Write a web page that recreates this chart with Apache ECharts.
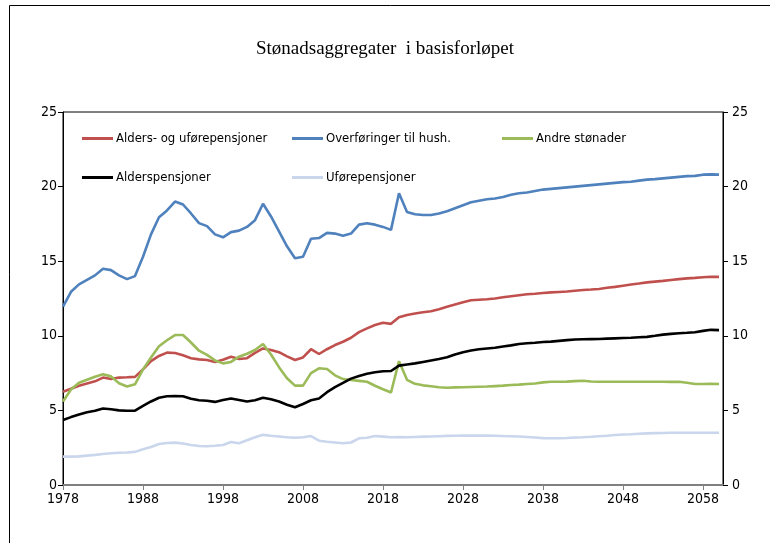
<!DOCTYPE html>
<html>
<head>
<meta charset="utf-8">
<script src="https://cdn.jsdelivr.net/npm/echarts@6/dist/echarts.min.js"></script>
<style>
html,body{margin:0;padding:0;background:#fff;}
#chart{width:770px;height:543px;}
</style>
</head>
<body>
<div id="chart"></div>
<script>
const title = 'Stønadsaggregater  i basisforløpet';
const seriesNames = ['Alders- og uførepensjoner','Overføringer til hush.','Andre stønader','Alderspensjoner','Uførepensjoner'];
const yTicks = [0,5,10,15,20,25];
const startYear = 1978;
const years = [];
for (let y = 1978; y <= 2060; y++) years.push(y);

const aldersOgUfore = [6.25,6.45,6.65,6.8,6.95,7.2,7.1,7.2,7.22,7.25,7.75,8.3,8.65,8.87,8.85,8.7,8.5,8.42,8.38,8.25,8.4,8.6,8.45,8.5,8.85,9.15,9.05,8.9,8.62,8.38,8.55,9.1,8.78,9.1,9.38,9.6,9.87,10.25,10.5,10.72,10.88,10.8,11.25,11.4,11.5,11.58,11.65,11.78,11.95,12.1,12.25,12.38,12.42,12.45,12.5,12.58,12.65,12.72,12.78,12.82,12.87,12.91,12.94,12.97,13.02,13.07,13.1,13.14,13.22,13.28,13.36,13.44,13.5,13.58,13.63,13.68,13.74,13.8,13.85,13.88,13.92,13.96,13.95];
const overforinger = [11.95,12.95,13.45,13.75,14.05,14.5,14.4,14.05,13.8,14.0,15.3,16.8,17.95,18.4,19.0,18.8,18.2,17.55,17.35,16.8,16.6,16.95,17.05,17.3,17.75,18.85,18.0,17.0,16.0,15.2,15.3,16.5,16.55,16.9,16.85,16.7,16.85,17.45,17.55,17.45,17.3,17.1,19.55,18.3,18.15,18.1,18.1,18.2,18.35,18.55,18.75,18.95,19.05,19.15,19.2,19.3,19.45,19.55,19.6,19.7,19.8,19.85,19.9,19.95,20.0,20.05,20.1,20.15,20.2,20.25,20.3,20.33,20.4,20.47,20.5,20.55,20.6,20.65,20.7,20.72,20.8,20.82,20.8];
const andreStonader = [5.6,6.4,6.85,7.05,7.25,7.42,7.28,6.82,6.6,6.75,7.75,8.55,9.3,9.7,10.05,10.05,9.55,9.0,8.72,8.35,8.15,8.25,8.6,8.8,9.05,9.45,8.75,7.9,7.15,6.66,6.66,7.5,7.82,7.77,7.35,7.1,7.04,6.98,6.92,6.65,6.42,6.2,8.3,7.05,6.78,6.68,6.62,6.55,6.52,6.54,6.55,6.57,6.59,6.6,6.63,6.66,6.7,6.73,6.77,6.8,6.88,6.92,6.92,6.93,6.96,6.99,6.94,6.92,6.92,6.92,6.92,6.92,6.92,6.92,6.92,6.92,6.91,6.92,6.85,6.77,6.77,6.78,6.77];
const alderspensjoner = [4.36,4.55,4.72,4.88,4.98,5.13,5.08,5.0,4.98,4.98,5.3,5.6,5.85,5.95,5.97,5.95,5.78,5.68,5.65,5.57,5.7,5.8,5.7,5.6,5.68,5.85,5.75,5.6,5.38,5.21,5.43,5.68,5.8,6.22,6.56,6.84,7.13,7.3,7.45,7.56,7.62,7.64,8.0,8.08,8.15,8.25,8.35,8.45,8.56,8.75,8.9,9.02,9.1,9.15,9.2,9.28,9.36,9.45,9.5,9.53,9.58,9.61,9.66,9.71,9.75,9.77,9.78,9.79,9.81,9.83,9.85,9.87,9.9,9.93,10.0,10.08,10.13,10.17,10.2,10.24,10.33,10.4,10.38];
const uforepensjoner = [1.9,1.9,1.92,1.97,2.02,2.08,2.13,2.16,2.18,2.22,2.4,2.55,2.75,2.82,2.84,2.78,2.68,2.61,2.6,2.63,2.68,2.88,2.8,3.0,3.2,3.36,3.3,3.25,3.2,3.17,3.2,3.28,2.97,2.9,2.85,2.8,2.85,3.13,3.17,3.28,3.24,3.2,3.22,3.2,3.22,3.24,3.25,3.27,3.29,3.3,3.31,3.31,3.31,3.31,3.3,3.28,3.27,3.25,3.22,3.18,3.14,3.13,3.13,3.15,3.18,3.2,3.23,3.27,3.3,3.35,3.38,3.4,3.43,3.46,3.48,3.49,3.5,3.5,3.5,3.5,3.5,3.5,3.5];

const colors = ['#C0504D','#4F81BD','#9BBB59','#000000','#C9D6EC'];
const values = [aldersOgUfore, overforinger, andreStonader, alderspensjoner, uforepensjoner];
const FONT = '"DejaVu Sans Condensed", "Liberation Sans", sans-serif';

const chart = echarts.init(document.getElementById('chart'), null, {renderer:'canvas'});

const series = seriesNames.map((n,i)=>({
  name:n, type:'line', yAxisIndex:0,
  data: years.map((y,k)=>[y, values[i][k]]),
  showSymbol:false, symbol:'none',
  lineStyle:{color:colors[i], width:2.6},
  itemStyle:{color:colors[i]},
  z: i===3 ? 5 : (i===4?2:3),
  animation:false
}));
series.push({name:'_r', type:'line', yAxisIndex:1, data:[], silent:true});

const legendCommon = {
  orient:'vertical', top:132, padding:0, itemGap:26, itemWidth:31, itemHeight:3, icon:'rect',
  textStyle:{fontFamily:FONT, fontSize:13, color:'#000', padding:[0,0,0,-2]},
  selectedMode:false
};

const axisLabelStyle = {fontFamily:FONT, fontSize:14, color:'#000'};

chart.setOption({
  animation:false,
  backgroundColor:'#fff',
  title:{text:title, left:'center', top:35,
    textStyle:{fontFamily:'"Liberation Serif", "Times New Roman", serif', fontSize:19, fontWeight:'normal', color:'#000'}},
  legend:[
    Object.assign({left:82, data:[seriesNames[0], seriesNames[3]]}, legendCommon),
    Object.assign({left:292, data:[seriesNames[1], seriesNames[4]]}, legendCommon),
    Object.assign({left:502, data:[seriesNames[2]]}, legendCommon)
  ],
  grid:{left:63, right:47, top:112, bottom:58, show:true, borderColor:'#000', borderWidth:1, backgroundColor:'transparent'},
  xAxis:{type:'value', min:startYear, max:2060.5, interval:10,
    axisLine:{show:true, lineStyle:{color:'#808080', width:2}},
    axisTick:{show:true, length:5, lineStyle:{color:'#808080', width:1}},
    axisLabel:Object.assign({margin:7, showMaxLabel:false, formatter:v=>String(v)}, axisLabelStyle),
    splitLine:{show:false}},
  yAxis:[
    {type:'value', min:0, max:25, interval:5, position:'left',
     axisLine:{show:true, lineStyle:{color:'#000', width:1}},
     axisTick:{show:true, length:5, lineStyle:{color:'#000'}},
     axisLabel:Object.assign({margin:6, formatter:v=>String(v)}, axisLabelStyle),
     splitLine:{show:false}},
    {type:'value', min:0, max:25, interval:5, position:'right',
     axisLine:{show:true, lineStyle:{color:'#000', width:1}},
     axisTick:{show:true, length:5, lineStyle:{color:'#000'}},
     axisLabel:Object.assign({margin:9, formatter:v=>String(v)}, axisLabelStyle),
     splitLine:{show:false}}
  ],
  graphic:[{type:'rect', shape:{x:9.5, y:5.5, width:780, height:560}, style:{fill:'none', stroke:'#000', lineWidth:1}, silent:true, z:-1}],
  series: series
});
</script>
</body>
</html>
